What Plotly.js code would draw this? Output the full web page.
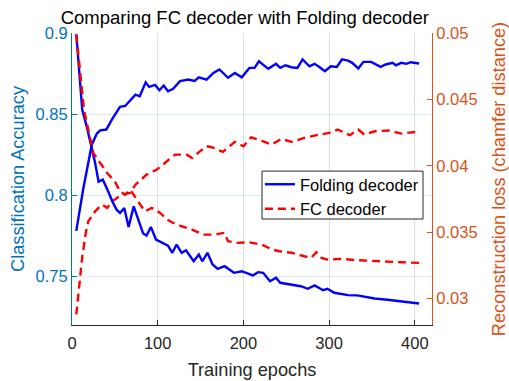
<!DOCTYPE html>
<html>
<head>
<meta charset="utf-8">
<script src="https://cdn.plot.ly/plotly-3.0.1.min.js"></script>
<style>html,body{margin:0;padding:0;background:#fff;}#chart{width:509px;height:381px;}</style>
</head>
<body>
<div id="chart"></div>
<script>
// ---- Data ----
const foldAccEpochs = [5,13,23,29,33,40,47,56,62,70,74,79,86,90,97,102,107,112,118,126,136,143,148,157,165,172,182,190,198,207,213,218,229,238,243,249,256,263,269,277,283,289,295,302,309,315,322,327,334,340,349,360,366,374,378,384,390,395,405];
const foldAcc = [0.778,0.8035,0.831,0.838,0.840,0.8405,0.847,0.8545,0.855,0.860,0.862,0.861,0.8696,0.8668,0.868,0.8647,0.8676,0.8641,0.8656,0.8703,0.8713,0.8705,0.8727,0.8713,0.8754,0.8775,0.8724,0.8754,0.8727,0.8785,0.8785,0.8826,0.8779,0.881,0.8785,0.8801,0.8789,0.8785,0.8837,0.8795,0.881,0.8789,0.8764,0.8795,0.8791,0.8837,0.883,0.8816,0.8781,0.8822,0.8822,0.8791,0.8806,0.8816,0.8801,0.8816,0.881,0.882,0.8812];

const fcAccEpochs = [5,12,16,19,27,35,41,47,58,68,74,87,99,111,120,134,140,147,157,163,176,190,200,209,221,233,244,256,271,285,300,310,324,334,341,353,370,384,398,405];
const fcAcc = [0.7265,0.7623,0.7767,0.7839,0.7901,0.7942,0.7922,0.7962,0.8004,0.8014,0.8065,0.8127,0.8158,0.8209,0.825,0.825,0.823,0.8261,0.8302,0.8296,0.8267,0.8329,0.8302,0.8357,0.8337,0.8312,0.8347,0.8329,0.8353,0.837,0.8384,0.8405,0.837,0.8405,0.8374,0.8394,0.8399,0.838,0.8391,0.8392];

const foldLossEpochs = [5,12,17,23,27,31,36,43,47,52,56,61,66,72,83,87,92,98,107,112,117,122,128,133,142,148,152,158,164,170,178,189,198,204,211,217,223,231,238,243,256,267,275,283,293,298,306,322,333,353,368,384,405];
const foldLoss = [0.0499,0.0442,0.0430,0.04145,0.0402,0.0388,0.03895,0.03795,0.03732,0.03669,0.03644,0.03682,0.03539,0.03694,0.03489,0.03474,0.03539,0.03444,0.03414,0.03398,0.03344,0.03406,0.03344,0.03363,0.0328,0.03331,0.0328,0.03344,0.03256,0.03223,0.03243,0.03193,0.03205,0.03188,0.03173,0.03198,0.03193,0.0313,0.03156,0.03118,0.03105,0.03092,0.03073,0.03098,0.03062,0.03073,0.03043,0.03025,0.03023,0.03,0.0299,0.0298,0.02962];

const fcLossEpochs = [5,10,14,19,25,33,41,50,56,62,68,77,85,93,103,111,118,128,140,153,165,178,182,192,207,221,234,242,256,271,279,285,291,298,314,333,353,368,384,405];
const fcLoss = [0.0499,0.04647,0.04421,0.04271,0.04095,0.0402,0.03945,0.03882,0.03807,0.03782,0.0382,0.03732,0.03656,0.03682,0.03644,0.03594,0.03569,0.03544,0.03519,0.03481,0.03481,0.03494,0.03431,0.03419,0.03423,0.03406,0.03368,0.03356,0.03344,0.03318,0.03306,0.03348,0.03306,0.03293,0.03298,0.03288,0.0328,0.03278,0.03273,0.03268];

const xTicks = [0,100,200,300,400];
const xTickText = ['0','100','200','300','400'];
const accTicks = [0.75,0.8,0.85,0.9];
const accTickText = ['0.75','0.8','0.85','0.9'];
const lossTicks = [0.03,0.035,0.04,0.045,0.05];
const lossTickText = ['0.03','0.035','0.04','0.045','0.05'];

const seriesNames = ['Folding decoder','FC decoder'];

// ---- Styles ----
const BLUE = 'rgb(0,0,255)';
const RED = 'rgb(255,0,0)';
const LEFTC = '#0072BD';
const RIGHTC = '#D95319';
const FONT = 'Liberation Sans, Arial, Helvetica, sans-serif';
const LW = 2.4;
const DASH = '8px,5px';

const traces = [
  {x: foldAccEpochs, y: foldAcc, yaxis: 'y', type: 'scatter', mode: 'lines', name: seriesNames[0],
   line: {color: BLUE, width: LW}, showlegend: true},
  {x: fcAccEpochs, y: fcAcc, yaxis: 'y', type: 'scatter', mode: 'lines', name: seriesNames[1],
   line: {color: RED, width: LW, dash: DASH}, showlegend: true},
  {x: foldLossEpochs, y: foldLoss, yaxis: 'y2', type: 'scatter', mode: 'lines', name: seriesNames[0],
   line: {color: BLUE, width: LW}, showlegend: false},
  {x: fcLossEpochs, y: fcLoss, yaxis: 'y2', type: 'scatter', mode: 'lines', name: seriesNames[1],
   line: {color: RED, width: LW, dash: DASH}, showlegend: false}
];

const layout = {
  width: 509, height: 381,
  margin: {l: 72, r: 77, t: 33, b: 56, pad: 0},
  paper_bgcolor: '#ffffff', plot_bgcolor: '#ffffff',
  font: {family: FONT, size: 16.5, color: '#262626'},
  showlegend: true,
  hovermode: false,
  title: {text: 'Comparing FC decoder with Folding decoder',
          font: {family: FONT, size: 18.5, color: '#000000'},
          x: 0.48, xref: 'paper', xanchor: 'center',
          y: 0.955, yref: 'container', yanchor: 'middle'},
  xaxis: {
    range: [0, 420], tickvals: xTicks, ticktext: xTickText,
    ticks: 'inside', ticklen: 5, tickwidth: 1, tickcolor: '#262626',
    showline: true, linecolor: '#262626', linewidth: 1,
    showgrid: true, gridcolor: 'rgba(38,38,38,0.15)', gridwidth: 1, zeroline: false,
    tickfont: {family: FONT, size: 16.5, color: '#262626'},
    ticklabelstandoff: 3,
    title: {text: 'Training epochs', font: {family: FONT, size: 18.2, color: '#262626'}, standoff: 12}
  },
  yaxis: {
    range: [0.72, 0.9], tickvals: accTicks, ticktext: accTickText,
    ticks: 'inside', ticklen: 5, tickwidth: 1, tickcolor: LEFTC,
    showline: true, linecolor: LEFTC, linewidth: 1,
    showgrid: true, gridcolor: 'rgba(0,114,189,0.15)', gridwidth: 1, zeroline: false,
    tickfont: {family: FONT, size: 16.5, color: LEFTC},
    title: {text: 'Classification Accuracy', font: {family: FONT, size: 18.2, color: LEFTC}, standoff: 6}
  },
  yaxis2: {
    range: [0.028, 0.05], tickvals: lossTicks, ticktext: lossTickText,
    overlaying: 'y', side: 'right',
    ticks: 'inside', ticklen: 5, tickwidth: 1, tickcolor: RIGHTC,
    showline: true, linecolor: RIGHTC, linewidth: 1,
    showgrid: false, zeroline: false,
    tickfont: {family: FONT, size: 16.5, color: RIGHTC},
    title: {text: 'Reconstruction loss (chamfer distance)', font: {family: FONT, size: 18.2, color: RIGHTC}, standoff: 16}
  },
  legend: {
    x: 0.522, y: 0.541, xanchor: 'left', yanchor: 'top',
    bgcolor: 'rgba(0,0,0,0)', borderwidth: 0,
    font: {family: FONT, size: 16.5, color: '#000000'},
    tracegroupgap: 0
  },
  shapes: [
    {type: 'rect', xref: 'paper', yref: 'paper', layer: 'above',
     x0: 0.5278, x1: 0.975, y0: 0.363, y1: 0.527,
     fillcolor: '#ffffff', line: {color: '#262626', width: 1}}
  ]
};

Plotly.newPlot('chart', traces, layout, {displayModeBar: false, responsive: false});
</script>
</body>
</html>
